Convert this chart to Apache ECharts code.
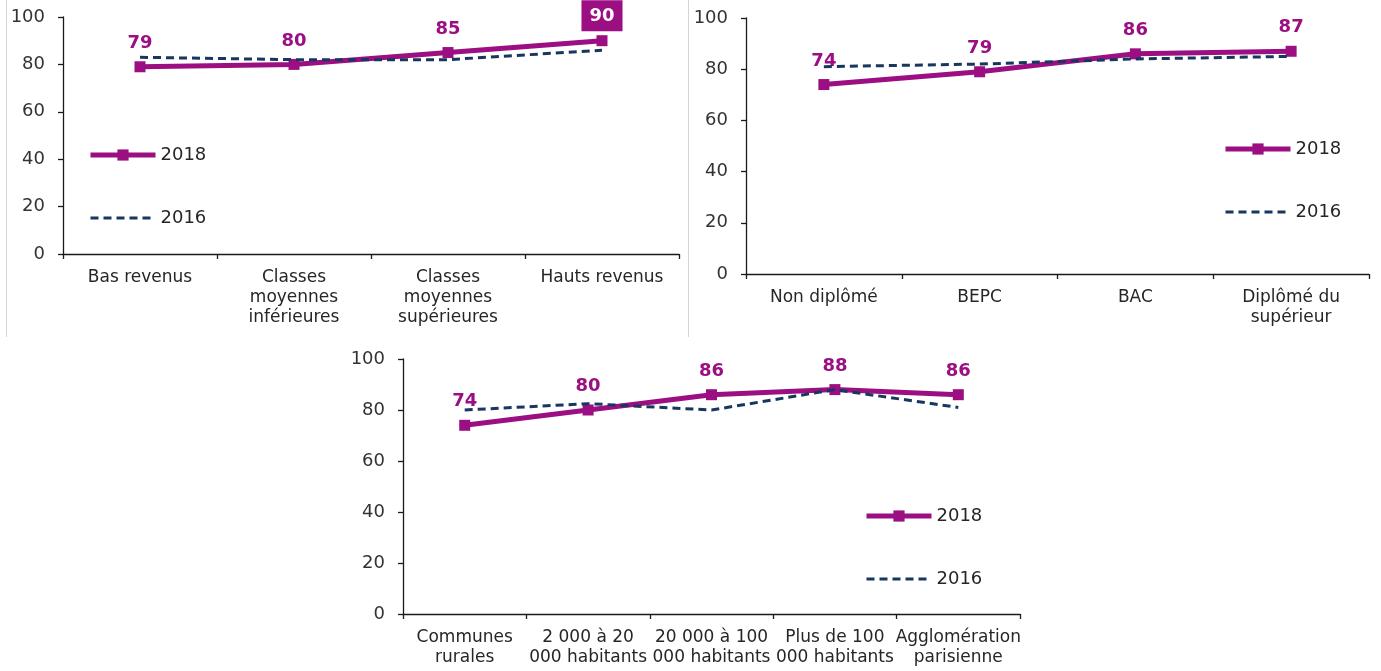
<!DOCTYPE html>
<html>
<head>
<meta charset="utf-8">
<script src="https://cdn.jsdelivr.net/npm/echarts@6/dist/echarts.min.js"></script>
<style>
    html, body { margin: 0; padding: 0; background: #fff; }
    #chart { width: 1381px; height: 671px; }
</style>
</head>
<body>
<div id="chart"></div>
<script>
(function() {

    // revenus
    var revenuCats = ['Bas revenus', 'Classes\nmoyennes\ninférieures', 'Classes\nmoyennes\nsupérieures', 'Hauts revenus'];
    var revenu2018 = [79, 80, 85, 90];
    var revenu2016 = [83, 82, 82, 86];

    // diplôme
    var diplomeCats = ['Non diplômé', 'BEPC', 'BAC', 'Diplômé du\nsupérieur'];
    var diplome2018 = [74, 79, 86, 87];
    var diplome2016 = [81, 82, 84, 85];

    // taille de commune
    var communeCats = ['Communes\nrurales', '2 000 à 20\n000 habitants', '20 000 à 100\n000 habitants', 'Plus de 100\n000 habitants', 'Agglomération\nparisienne'];
    var commune2018 = [74, 80, 86, 88, 86];
    var commune2016 = [80, 82.5, 80, 88, 81];

    var yTicks = [0, 20, 40, 60, 80, 100];
    var seriesNames = ['2018', '2016'];

    var purple = '#9b0f83';
    var navy = '#17375e';
    var textColor = '#262626';
    var axisColor = '#1a1a1a';
    var font = '"DejaVu Sans", Verdana, sans-serif';

    var panels = [
        { cats: revenuCats, v18: revenu2018, v16: revenu2016, boxed: 3,
          grid: { left: 63, top: 17, width: 616, height: 237 },
          legend: { left: 88, top: 146 } },
        { cats: diplomeCats, v18: diplome2018, v16: diplome2016, boxed: -1,
          grid: { left: 746, top: 18, width: 623, height: 256 },
          legend: { left: 1223, top: 140 } },
        { cats: communeCats, v18: commune2018, v16: commune2016, boxed: -1,
          grid: { left: 403, top: 359, width: 617, height: 255 },
          legend: { left: 864, top: 507 } }
    ];

    var grids = [], xAxes = [], yAxes = [], series = [], legends = [];

    panels.forEach(function(p, i) {

        grids.push(p.grid);

        xAxes.push({
            type: 'category',
            gridIndex: i,
            data: p.cats,
            boundaryGap: true,
            axisLine: { lineStyle: { color: axisColor, width: 1.3 } },
            axisTick: { show: true, length: 5, interval: 0, lineStyle: { color: axisColor, width: 1.3 } },
            axisLabel: { interval: 0, fontSize: 17, lineHeight: 20, color: textColor, margin: 14, fontFamily: font }
        });

        yAxes.push({
            type: 'value',
            gridIndex: i,
            min: yTicks[0],
            max: yTicks[yTicks.length - 1],
            interval: yTicks[1] - yTicks[0],
            axisLine: { show: true, lineStyle: { color: axisColor, width: 1.3 } },
            axisTick: { show: true, length: 5, lineStyle: { color: axisColor, width: 1.3 } },
            splitLine: { show: false },
            axisLabel: { fontSize: 18, color: '#333', margin: 18, fontFamily: font }
        });

        series.push({
            name: seriesNames[0],
            type: 'line',
            xAxisIndex: i,
            yAxisIndex: i,
            data: p.v18.map(function(v, k) {
                if (k !== p.boxed) return v;
                return {
                    value: v,
                    label: { color: '#fff', backgroundColor: purple, padding: [7, 8, 6, 8], distance: 4 }
                };
            }),
            symbol: 'rect',
            symbolSize: 11,
            lineStyle: { color: purple, width: 5 },
            itemStyle: { color: purple },
            label: { show: true, position: 'top', distance: 9, color: purple, fontSize: 18, fontWeight: 'bold', fontFamily: font },
            z: 2
        });

        series.push({
            name: seriesNames[1],
            type: 'line',
            xAxisIndex: i,
            yAxisIndex: i,
            data: p.v16,
            symbol: 'none',
            lineStyle: { color: navy, width: 3, type: [8, 5] },
            itemStyle: { color: navy },
            z: 3
        });

        // la légende : trait épais + carré pour 2018, tirets seuls pour 2016
        legends.push({
            left: p.legend.left,
            top: p.legend.top,
            padding: 0,
            orient: 'vertical',
            itemWidth: 65,
            itemHeight: 14,
            itemGap: 45,
            selectedMode: false,
            data: [
                { name: seriesNames[0], lineStyle: { width: 5 } },
                { name: seriesNames[1], lineStyle: { width: 3 }, itemStyle: { opacity: 0 } }
            ],
            textStyle: { fontSize: 18, color: textColor, fontFamily: font }
        });

    });

    var myChart = echarts.init(document.getElementById('chart'));
    myChart.setOption({
        animation: false,
        grid: grids,
        xAxis: xAxes,
        yAxis: yAxes,
        legend: legends,
        series: series,
        graphic: [
            { type: 'line', shape: { x1: 6.5, y1: 0, x2: 6.5, y2: 337 }, style: { stroke: '#d4d4d4', lineWidth: 1 } },
            { type: 'line', shape: { x1: 688.5, y1: 0, x2: 688.5, y2: 337 }, style: { stroke: '#d4d4d4', lineWidth: 1 } }
        ]
    });

})();
</script>
</body>
</html>
